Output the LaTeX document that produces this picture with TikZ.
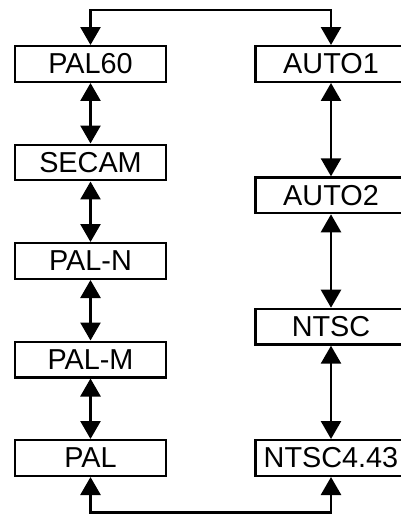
\documentclass[tikz,border=0pt]{standalone}
\usepackage{fontspec}
\setmainfont{Liberation Sans}
\usetikzlibrary{arrows.meta}

\begin{document}
\begin{tikzpicture}[x=0.05cm, y=-0.05cm,
  modebox/.style={draw, line width=0.12cm, font=\fontsize{41}{48}\selectfont, inner sep=0pt, text centered, minimum width=7.55cm, minimum height=1.78cm},
  arrow/.style={{Triangle[length=0.9cm, width=1.0cm]}-{Triangle[length=0.9cm, width=1.0cm]}, line width=0.13cm},
]
\useasboundingbox (0,0) rectangle (400,514);

% Left column
\node[modebox] (pal60) at (90.5,64) {PAL60};
\node[modebox] (secam) at (90.5,162.5) {SECAM};
\node[modebox] (paln) at (90.5,261) {PAL-N};
\node[modebox] (palm) at (90.5,359.5) {PAL-M};
\node[modebox] (pal) at (90.5,458) {PAL};

% Right column
\node[modebox] (autoa) at (331,64) {AUTO1};
\node[modebox] (autob) at (331,195.3) {AUTO2};
\node[modebox] (ntsc) at (331,326.7) {NTSC};
\node[modebox] (ntscb) at (331,458) {NTSC4.43};

% Turn points
\coordinate (top) at (90.5,10);
\coordinate (bot) at (90.5,512.5);

% Arrows within columns
\draw[arrow] (pal60) -- (secam);
\draw[arrow] (secam) -- (paln);
\draw[arrow] (paln) -- (palm);
\draw[arrow] (palm) -- (pal);
\draw[arrow] (autoa) -- (autob);
\draw[arrow] (autob) -- (ntsc);
\draw[arrow] (ntsc) -- (ntscb);

% Loops between columns
\draw[arrow] (pal60.north) -- (top) -| (autoa.north);
\draw[arrow] (pal.south) -- (bot) -| (ntscb.south);
\end{tikzpicture}
\end{document}
